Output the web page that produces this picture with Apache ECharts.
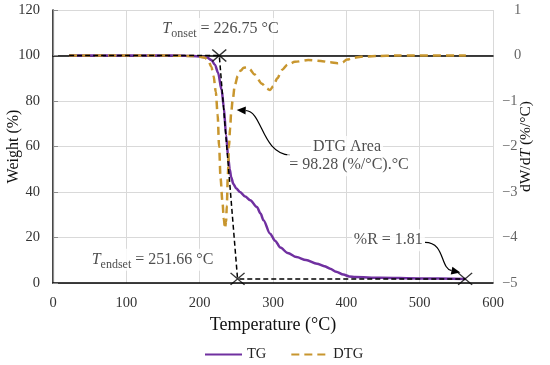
<!DOCTYPE html>
<html>
<head>
<meta charset="utf-8">
<script src="https://cdn.jsdelivr.net/npm/echarts@6/dist/echarts.min.js"></script>
<style>html,body{margin:0;padding:0;background:#fff;}#c{width:550px;height:365px;}</style>
</head>
<body>
<div id="c"></div>
<script>
// ---- data ----
const xTicks = [0, 100, 200, 300, 400, 500, 600];
const tgData = [[22,100],[100,100],[150,100],[180,99.9],[200,99.6],[210,99.1],[216,98],[221,95.8],[225,92.5],[230,84.8],[233,77],[236,65],[239,55],[241,50],[243,46.5],[246,43.5],[250,41.5],[255,40],[262,38],[269,36.4],[278,33.4],[283,30.5],[287,27.6],[296,21.7],[303,18.5],[310,15.6],[320,13.2],[332,11.4],[345,10.1],[360,8.5],[370,7.4],[378,6.3],[386,5],[396,3.7],[404,2.9],[412,2.6],[446,2.3],[500,2.0],[563,1.81]];
const dtgData = [[22,0],[100,0],[150,0],[190,-0.01],[200,-0.03],[207,-0.05],[212,-0.12],[216,-0.25],[219,-0.45],[222,-0.8],[224.5,-1.3],[226.5,-2.0],[228.5,-2.7],[231,-3.2],[233,-3.6],[234.5,-3.8],[236,-3.65],[237,-3.3],[238.5,-2.6],[240,-2.0],[241.5,-1.6],[243,-1.25],[245,-0.98],[248,-0.65],[252,-0.45],[256,-0.33],[260,-0.27],[264,-0.26],[268,-0.3],[275,-0.42],[285,-0.62],[291,-0.72],[296,-0.76],[300,-0.68],[306,-0.5],[312,-0.32],[320,-0.2],[330,-0.14],[348,-0.1],[365,-0.12],[378,-0.15],[388,-0.17],[394,-0.16],[401,-0.09],[410,-0.05],[420,-0.03],[440,-0.01],[470,0],[563,0]];
const constructionLine = [[22,100],[226.75,100],[251.66,1.81],[562,1.81]];
const markerPoints = [[226.75,100],[251.66,1.81],[562,1.81]];
const annotations = [
  {value:[228.4,111.6], text:'{i|T}{sub|onset}{n| = 226.75 °C}'},
  {value:[135.7,10.2], text:'{i|T}{sub|endset}{n| = 251.66 °C}'},
  {value:[401,59.8], text:'{n|DTG Area}'},
  {value:[403.6,51.8], text:'{n|= 98.28 (%/°C).°C}'},
  {value:[457.3,18.8], text:'{n|%R = 1.81}'}
];
// arrows: tail, control1, control2, tip (data coordinates)
const arrows = [
  [[323.2,56.2],[284,57],[286,75.5],[250.5,76]],
  [[507.3,17.9],[534.6,17.9],[527.8,6.5],[555.5,4.6]]
];

const FONT = 'Liberation Serif';
const chart = echarts.init(document.getElementById('c'), null, {renderer:'canvas'});
const richStyles = {
  n:{fontFamily:FONT, fontSize:16, color:'#222', lineHeight:22, verticalAlign:'middle'},
  i:{fontFamily:FONT, fontSize:16, fontStyle:'italic', color:'#222', lineHeight:22, verticalAlign:'middle'},
  sub:{fontFamily:FONT, fontSize:12, color:'#222', lineHeight:22, verticalAlign:'bottom'}
};

chart.setOption({
  animation:false,
  backgroundColor:'#fff',
  grid:{left:53, right:57, top:10, bottom:82, containLabel:false, outerBoundsMode:'none'},
  legend:{
    data:['TG','DTG'], top:342, left:199, itemWidth:37, itemHeight:14, itemGap:24,
    itemStyle:{opacity:0},
    textStyle:{fontFamily:FONT, fontSize:14.5, color:'#222'}
  },
  xAxis:[{
    type:'value', min:0, max:600, interval:100, position:'bottom',
    axisLine:{show:true, lineStyle:{color:'#000', width:1.5}},
    axisTick:{show:false},
    splitLine:{show:true, lineStyle:{color:'#d9d9d9', width:1}},
    axisLabel:{fontFamily:FONT, fontSize:14.5, color:'#333', margin:13,
      formatter:v => xTicks.includes(v) ? String(v) : ''},
    name:'Temperature (°C)', nameLocation:'middle', nameGap:33, nameMoveOverlap:false,
    nameTextStyle:{fontFamily:FONT, fontSize:18, color:'#111'}
  },{
    type:'value', min:0, max:600, position:'top',
    axisLine:{show:true, lineStyle:{color:'#000', width:1.5}},
    axisTick:{show:false}, axisLabel:{show:false}, splitLine:{show:false}
  }],
  yAxis:[{
    type:'value', min:0, max:120, interval:20, position:'left',
    axisLine:{show:true, lineStyle:{color:'#000', width:1.5}},
    axisTick:{show:false},
    splitLine:{show:true, lineStyle:{color:'#d9d9d9', width:1}},
    axisLabel:{fontFamily:FONT, fontSize:14.5, color:'#333', margin:13},
    name:'Weight (%)', nameLocation:'middle', nameGap:31, nameRotate:90, nameMoveOverlap:false,
    nameTextStyle:{fontFamily:FONT, fontSize:16, color:'#111'}
  },{
    type:'value', min:-5, max:1, interval:1, position:'right',
    axisLine:{show:true, lineStyle:{color:'#8c8c8c', width:1.2}},
    axisTick:{show:true, length:5, lineStyle:{color:'#8c8c8c'}},
    splitLine:{show:false},
    axisLabel:{fontFamily:FONT, fontSize:14.5, color:'#666', margin:9, align:'left',
      formatter:v => v < 0 ? '{n|' + String(v).replace('-', '\u2212') + '}' : '{p|' + v + '}',
      rich:{
        n:{fontFamily:FONT, fontSize:14.5, color:'#666'},
        p:{fontFamily:FONT, fontSize:14.5, color:'#666', padding:[0,0,0,12]}
      }},
    name:'dW/d{i|T} (%/°C)', nameLocation:'middle', nameGap:25, nameRotate:90, nameMoveOverlap:false,
    nameTextStyle:{fontFamily:FONT, fontSize:15.5, color:'#111',
      rich:{i:{fontFamily:FONT, fontSize:15.5, fontStyle:'italic', color:'#111'}}}
  }],
  series:[
    {name:'TG', type:'line', xAxisIndex:0, yAxisIndex:0, data:tgData, symbol:'none',
     smooth:0.3, smoothMonotone:'x', lineStyle:{color:'#7030A0', width:2.5}, itemStyle:{color:'#7030A0'}, z:2},
    {name:'DTG', type:'line', xAxisIndex:0, yAxisIndex:1, data:dtgData, symbol:'none',
     smooth:0.3, smoothMonotone:'x', lineStyle:{color:'#C8962E', width:2.5, type:[8,5]}, itemStyle:{color:'#C8962E'}, z:3},
    {name:'construction', type:'line', xAxisIndex:0, yAxisIndex:0, data:constructionLine, symbol:'none',
     lineStyle:{color:'#000', width:1.5, type:[5,3]}, z:4, silent:true},
    {name:'markers', type:'scatter', xAxisIndex:0, yAxisIndex:0, data:markerPoints,
     symbol:'path://M0,0L10,10M10,0L0,10', symbolSize:[14,12],
     itemStyle:{color:'transparent', borderColor:'#000', borderWidth:1.4}, z:6, silent:true},
    {name:'arrows', type:'custom', xAxisIndex:0, yAxisIndex:0, data:arrows.map(a => a[0]),
     encode:{x:0, y:1}, clip:false, silent:true, z:5,
     renderItem:(params, api) => {
       const p = arrows[params.dataIndex].map(c => api.coord(c));
       const [p0,c1,c2,p3] = p;
       let dx = p3[0]-c2[0], dy = p3[1]-c2[1];
       const L = Math.hypot(dx,dy); dx/=L; dy/=L;
       const len = 9, hw = 4;
       const bx = p3[0]-dx*len, by = p3[1]-dy*len;
       return {type:'group', children:[
         {type:'bezierCurve', shape:{x1:p0[0],y1:p0[1],cpx1:c1[0],cpy1:c1[1],cpx2:c2[0],cpy2:c2[1],x2:bx,y2:by},
          style:{stroke:'#000', lineWidth:1.2, fill:null}},
         {type:'polygon', shape:{points:[[p3[0],p3[1]],[bx-dy*hw,by+dx*hw],[bx+dy*hw,by-dx*hw]]},
          style:{fill:'#000'}}
       ]};
     }},
    {name:'labels', type:'scatter', xAxisIndex:0, yAxisIndex:0, data:annotations.map(a => ({value:a.value, text:a.text})),
     symbol:'circle', symbolSize:1, itemStyle:{color:'transparent'}, z:7, silent:true,
     label:{show:true, position:'inside', formatter:p => p.data.text, backgroundColor:'#fff', padding:[0,2],
       rich:richStyles}}
  ]
});
</script>
</body>
</html>
